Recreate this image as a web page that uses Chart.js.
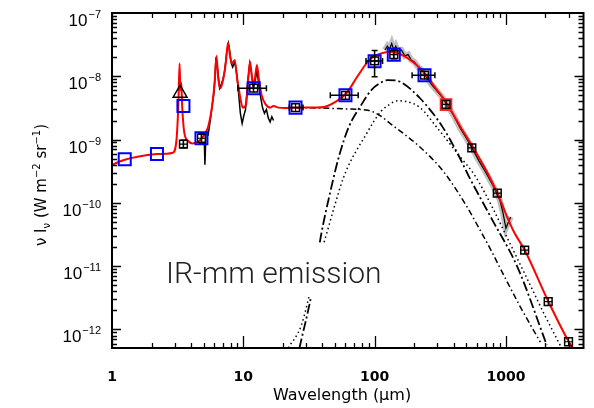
<!DOCTYPE html>
<html>
<head>
<meta charset="utf-8">
<script src="https://cdn.jsdelivr.net/npm/chart.js@4.4.1/dist/chart.umd.min.js"></script>
<style>
  html, body { margin: 0; padding: 0; background: #fff; }
  #wrap { width: 594px; height: 408px; }
</style>
</head>
<body>
<div id="wrap"><canvas id="sed" width="594" height="408"></canvas></div>
<script>
// SED of the IR-mm emission: model, spectra, photometry (wavelength in um, nu I_nu in W m-2 sr-1)

// total model (red)
const modelWave = [1.0, 1.25, 1.6, 2.2, 2.6, 2.9, 3.1, 3.2, 3.27, 3.32,
                   3.37, 3.42, 3.55, 3.8, 4.1, 4.6, 5.0, 5.4, 5.8, 6.05,
                   6.25, 6.45, 6.7, 7.05, 7.35, 7.65, 7.95, 8.2, 8.6, 9.0,
                   9.5, 9.9, 10.5, 10.9, 11.25, 11.7, 12.1, 12.7, 13.2, 13.8,
                   14.8, 16.1, 17.0, 18.5, 21, 25, 30, 36, 42, 50,
                   61, 75, 92, 112, 133, 167, 210, 234, 300, 350,
                   450, 551, 700, 850, 1150, 1390, 2100, 3000, 3300];
const modelFlux = [4.0e-10, 4.8e-10, 5.4e-10, 5.9e-10, 6.0e-10, 6.2e-10, 1.0e-9, 3.5e-9, 1.6e-8, 6e-9,
                   8e-9, 3.5e-9, 1.3e-9, 9.5e-10, 8.7e-10, 9.5e-10, 1.15e-9, 1.6e-9, 3.5e-9, 8e-9,
                   2.1e-8, 9e-9, 6.5e-9, 9.2e-9, 1.6e-8, 3.4e-8, 2.0e-8, 1.6e-8, 1.8e-8, 9e-9,
                   4.5e-9, 3.2e-9, 3.6e-9, 9e-9, 1.7e-8, 9e-9, 8.2e-9, 1.5e-8, 8.5e-9, 5e-9,
                   3.6e-9, 3.2e-9, 3.4e-9, 3.2e-9, 3.15e-9, 3.2e-9, 3.2e-9, 3.2e-9, 3.3e-9, 3.9e-9,
                   5.4e-9, 1.04e-8, 1.85e-8, 2.3e-8, 2.45e-8, 2.1e-8, 1.5e-8, 1.2e-8, 6e-9, 3.9e-9,
                   1.6e-9, 8.0e-10, 3.4e-10, 1.5e-10, 3.5e-11, 1.8e-11, 2.8e-12, 6.5e-13, 4.8e-13];

// model components
const vsgWave = [20, 28.5, 40, 60, 89, 110, 133, 170, 216, 279,
                 340, 416, 500, 620, 780, 977, 1300, 1830];
const vsgFlux = [3.15e-9, 3.18e-9, 3.15e-9, 3.05e-9, 2.9e-9, 2.4e-9, 1.76e-9, 1.2e-9, 8.0e-10, 4.8e-10,
                 3.0e-10, 1.65e-10, 9e-11, 4.1e-11, 1.7e-11, 6.8e-12, 2.2e-12, 6.3e-13];
const coldWave = [26.7, 33.4, 39, 46, 53.5, 63.4, 79.6, 94, 110, 126,
                  145, 160, 222, 331, 440, 521, 780, 1227, 2047];
const coldFlux = [5e-13, 4e-12, 3e-11, 1.5e-10, 5.4e-10, 1.56e-9, 3.6e-9, 6.0e-9, 7.8e-9, 8.7e-9,
                  8.6e-9, 8.0e-9, 4.5e-9, 1.56e-9, 5.4e-10, 2.65e-10, 5.6e-11, 9.6e-12, 5.7e-13];
const warmWave = [22, 27.6, 34, 42.5, 50, 57.5, 63, 72, 84, 98,
                  112, 130, 150, 175, 222, 295, 440, 584, 800, 1000,
                  1500, 2000, 2645];
const warmFlux = [5.1e-13, 1.15e-12, 6e-12, 2.95e-11, 9.5e-11, 2.4e-10, 3.8e-10, 6.5e-10, 1.1e-9, 1.9e-9,
                  2.8e-9, 3.6e-9, 4.1e-9, 4.0e-9, 3.2e-9, 1.6e-9, 5.6e-10, 2.65e-10, 8e-11, 3.1e-11,
                  5.5e-12, 1.6e-12, 5.2e-13];

// mid-IR spectrum (black)
const irsWave = [5.05, 5.1, 5.2, 5.4, 5.6, 5.8, 6.0, 6.2, 6.4, 6.6,
                 6.8, 7.0, 7.2, 7.5, 7.7, 7.9, 8.1, 8.3, 8.6, 8.9,
                 9.2, 9.5, 9.8, 10.1, 10.4, 10.8, 11.2, 11.5, 11.9, 12.3,
                 12.7, 13.1, 13.6, 14.0, 14.5, 15.0, 15.5, 16.0, 16.5, 17.0];
const irsFlux = [9e-10, 4e-10, 1.3e-9, 1.2e-9, 2.0e-9, 3.5e-9, 6e-9, 2.0e-8, 1.2e-8, 6.5e-9,
                 7.5e-9, 9e-9, 1.2e-8, 2.5e-8, 3.3e-8, 2.4e-8, 1.6e-8, 1.4e-8, 1.7e-8, 1.1e-8,
                 5.5e-9, 2.6e-9, 1.8e-9, 2.4e-9, 3.0e-9, 8e-9, 1.6e-8, 1.2e-8, 6.5e-9, 8e-9,
                 1.3e-8, 7.5e-9, 4.5e-9, 3.2e-9, 2.6e-9, 3.0e-9, 2.2e-9, 1.9e-9, 2.3e-9, 2.0e-9];

// far-IR / submm spectrum (black with grey noise)
const ftsWave = [120, 125, 130, 135, 140, 145, 150, 160, 170, 180,
                 190, 200, 215, 230, 250, 270, 300, 330, 360, 400,
                 450, 500, 560, 620, 680, 740, 800, 860, 900, 950,
                 1000, 1087];
const ftsFlux = [2.6e-8, 3.0e-8, 2.7e-8, 3.3e-8, 2.6e-8, 3.0e-8, 2.5e-8, 2.6e-8, 2.1e-8, 2.2e-8,
                 1.8e-8, 1.7e-8, 1.4e-8, 1.25e-8, 9.5e-9, 7.5e-9, 5.8e-9, 4.6e-9, 3.4e-9, 2.4e-9,
                 1.5e-9, 1.05e-9, 7.0e-10, 4.7e-10, 3.4e-10, 2.5e-10, 1.85e-10, 1.35e-10, 1.1e-10, 7e-11,
                 4e-11, 6e-11];

// photometry
const photWave = [3.5, 4.8, 12, 25, 60, 100, 140, 240, 350, 550, 860, 1390, 2100, 3000];
const photFlux = [8.5e-10, 1.05e-9, 6.5e-9, 3.2e-9, 5.0e-9, 1.75e-8, 2.2e-8, 1.04e-8, 3.6e-9, 7.4e-10, 1.43e-10, 1.79e-11, 2.75e-12, 6.4e-13];
const photWaveLo = [3.5, 4.8, 9.1, 22.4, 46, 86, 140, 193, 350, 550, 860, 1390, 2100, 3000];
const photWaveHi = [3.5, 4.8, 15, 28.5, 75, 115, 140, 288, 350, 550, 860, 1390, 2100, 3000];
const photFluxLo = [7.4e-10, 8.8e-10, 6.5e-9, 3.2e-9, 5.0e-9, 9.8e-9, 1.9e-8, 1.04e-8, 3.6e-9, 7.4e-10, 1.43e-10, 1.79e-11, 2.75e-12, 6.4e-13];
const photFluxHi = [9.8e-10, 1.25e-9, 6.5e-9, 3.2e-9, 5.0e-9, 2.55e-8, 2.6e-8, 1.04e-8, 3.6e-9, 7.4e-10, 1.43e-10, 1.79e-11, 2.75e-12, 6.4e-13];

const blueWave = [1.25, 2.2, 3.5, 4.8, 12, 25, 60, 100, 140, 240];
const blueFlux = [4.9e-10, 5.9e-10, 3.4e-9, 1.05e-9, 6.5e-9, 3.2e-9, 5.0e-9, 1.73e-8, 2.2e-8, 1.04e-8];
const redSqWave = [350];
const redSqFlux = [3.57e-9];
const triWave = [3.3];
const triFlux = [5.4e-9];

const xMajor = [1, 10, 100, 1000];
const yMajorExp = [-7, -8, -9, -10, -11, -12];

const pts = (xs, ys) => xs.map((x, i) => ({ x: x, y: ys[i] }));

function lineSet(xs, ys, color, width, dash, order) {
  return {
    data: pts(xs, ys), showLine: true, borderColor: color, borderWidth: width,
    borderDash: dash, pointRadius: 0, fill: false, order: order,
    cubicInterpolationMode: "monotone"
  };
}

// inward ticks on all four sides, frame, tick labels, axis titles
const axesPlugin = {
  id: "axesPlugin",
  afterDatasetsDraw(chart) {
    const { ctx, chartArea: a, scales: { x, y } } = chart;
    ctx.save();

    // white box behind the annotation
    ctx.fillStyle = "#fff";
    ctx.fillRect(160, 243, 232, 54);
    ctx.fillStyle = "#222";
    ctx.font = "300 30px Roboto";
    ctx.textBaseline = "alphabetic";
    ctx.textAlign = "left";
    ctx.fillText("IR-mm emission", 166, 283);

    ctx.strokeStyle = "#000";
    ctx.lineWidth = 1.3;
    ctx.beginPath();
    for (let d = 1; d <= 1000; d *= 10) {
      for (let m = 1; m <= 9; m++) {
        const v = d * m;
        if (v > x.max) break;
        const px = Math.round(x.getPixelForValue(v)) + 0.5;
        const len = m === 1 ? 12 : 5;
        ctx.moveTo(px, a.bottom); ctx.lineTo(px, a.bottom - len);
        ctx.moveTo(px, a.top); ctx.lineTo(px, a.top + len);
      }
    }
    for (let e = -13; e <= -8; e++) {
      for (let m = 1; m <= 9; m++) {
        const v = m * Math.pow(10, e);
        if (v < y.min || v > y.max) continue;
        const py = Math.round(y.getPixelForValue(v)) + 0.5;
        const len = m === 1 ? 9 : 5;
        ctx.moveTo(a.left, py); ctx.lineTo(a.left + len, py);
        ctx.moveTo(a.right, py); ctx.lineTo(a.right - len, py);
      }
    }
    ctx.stroke();

    ctx.lineWidth = 2;
    ctx.strokeRect(a.left, a.top, a.right - a.left, a.bottom - a.top);

    // x tick labels
    ctx.fillStyle = "#000";
    ctx.font = "bold 14px 'DejaVu Sans'";
    ctx.textAlign = "center";
    ctx.textBaseline = "middle";
    xMajor.forEach(v => ctx.fillText(String(v), x.getPixelForValue(v), 377));

    // y tick labels: 10 with raised exponent
    yMajorExp.forEach(e => {
      const py = y.getPixelForValue(Math.pow(10, e));
      const ex = "\u2212" + Math.abs(e);
      ctx.font = "11px 'Liberation Sans'";
      const ew = ctx.measureText(ex).width;
      ctx.textAlign = "left";
      ctx.textBaseline = "alphabetic";
      ctx.fillText(ex, 101 - ew, py + 5);
      ctx.font = "17px 'Liberation Sans'";
      ctx.textAlign = "right";
      ctx.fillText("10", 101 - ew - 1, py + 13);
    });

    // x title
    ctx.font = "16px 'DejaVu Sans'";
    ctx.textAlign = "center";
    ctx.textBaseline = "middle";
    ctx.fillText("Wavelength (\u03bcm)", 342, 396);

    // y title, rotated, with sub/superscripts
    ctx.translate(46, 185);
    ctx.rotate(-Math.PI / 2);
    const parts = [["\u03bd I", 0, 15], ["\u03bd", 4, 10], [" (W m", 0, 15], ["\u22122", -6, 10],
                   [" sr", 0, 15], ["\u22121", -6, 10], [")", 0, 15]];
    let total = 0;
    parts.forEach(p => { ctx.font = p[2] + "px 'DejaVu Sans'"; total += ctx.measureText(p[0]).width; });
    let cx = -total / 2;
    ctx.textAlign = "left";
    ctx.textBaseline = "alphabetic";
    parts.forEach(p => {
      ctx.font = p[2] + "px 'DejaVu Sans'";
      ctx.fillText(p[0], cx, p[1]);
      cx += ctx.measureText(p[0]).width;
    });
    ctx.restore();
  }
};

// error bars with caps, drawn under the photometry squares
const errorBars = {
  id: "errorBars",
  afterDatasetsDraw(chart) {
    const { ctx, scales: { x, y } } = chart;
    ctx.save();
    ctx.strokeStyle = "#000";
    ctx.lineWidth = 1.5;
    ctx.beginPath();
    photWave.forEach((w, i) => {
      const px = x.getPixelForValue(w), py = y.getPixelForValue(photFlux[i]);
      const x0 = x.getPixelForValue(photWaveLo[i]), x1 = x.getPixelForValue(photWaveHi[i]);
      const y0 = y.getPixelForValue(photFluxLo[i]), y1 = y.getPixelForValue(photFluxHi[i]);
      if (x1 - x0 > 2) {
        ctx.moveTo(x0, py); ctx.lineTo(x1, py);
        ctx.moveTo(x0, py - 3); ctx.lineTo(x0, py + 3);
        ctx.moveTo(x1, py - 3); ctx.lineTo(x1, py + 3);
      }
      if (y0 - y1 > 2) {
        ctx.moveTo(px, y0); ctx.lineTo(px, y1);
        ctx.moveTo(px - 3, y0); ctx.lineTo(px + 3, y0);
        ctx.moveTo(px - 3, y1); ctx.lineTo(px + 3, y1);
      }
    });
    ctx.stroke();
    ctx.restore();
  }
};

const ftsNoise = lineSet(ftsWave, ftsFlux, "rgba(140,140,140,0.55)", 6, [], 9);
ftsNoise.cubicInterpolationMode = "default";
const ftsLine = lineSet(ftsWave, ftsFlux, "#000", 1.2, [], 8);
ftsLine.cubicInterpolationMode = "default";
const irsLine = lineSet(irsWave, irsFlux, "#000", 1.5, [], 8);
irsLine.cubicInterpolationMode = "default";

new Chart(document.getElementById("sed"), {
  type: "scatter",
  data: {
    datasets: [
      ftsNoise,
      ftsLine,
      irsLine,
      lineSet(vsgWave, vsgFlux, "#000", 1.5, [6, 3, 1.5, 3], 7),
      lineSet(coldWave, coldFlux, "#000", 1.8, [10, 3, 2, 3], 7),
      lineSet(warmWave, warmFlux, "#000", 1.5, [1.5, 3], 7),
      lineSet(modelWave, modelFlux, "#ff0000", 2, [], 5),
      {
        data: pts(blueWave, blueFlux), pointStyle: "rect", pointRadius: 8.5,
        borderColor: "#0000ff", borderWidth: 2, backgroundColor: "rgba(0,0,0,0)", order: 4
      },
      {
        data: pts(redSqWave, redSqFlux), pointStyle: "rect", pointRadius: 7.5,
        borderColor: "#ff2020", borderWidth: 2, backgroundColor: "rgba(0,0,0,0)", order: 4
      },
      {
        data: pts(triWave, triFlux), pointStyle: "triangle", pointRadius: 8,
        borderColor: "#000", borderWidth: 1.5, backgroundColor: "rgba(0,0,0,0)", order: 4
      },
      {
        data: pts(photWave, photFlux), pointStyle: "rect", pointRadius: 5.5,
        borderColor: "#000", borderWidth: 1.5, backgroundColor: "rgba(0,0,0,0)", order: 2
      },
      {
        data: pts(photWave, photFlux), pointStyle: "cross", pointRadius: 4,
        borderColor: "#000", borderWidth: 1.2, order: 1
      }
    ]
  },
  options: {
    responsive: false,
    animation: false,
    layout: { padding: { left: 104, top: 13, right: 6, bottom: 52 } },
    plugins: { legend: { display: false }, tooltip: { enabled: false } },
    scales: {
      x: {
        type: "logarithmic", min: 1, max: 3900,
        ticks: { display: false }, grid: { display: false }, border: { display: false }
      },
      y: {
        type: "logarithmic", min: 5.1e-13, max: 1e-7,
        ticks: { display: false }, grid: { display: false }, border: { display: false }
      }
    }
  },
  plugins: [errorBars, axesPlugin]
});
</script>
</body>
</html>
